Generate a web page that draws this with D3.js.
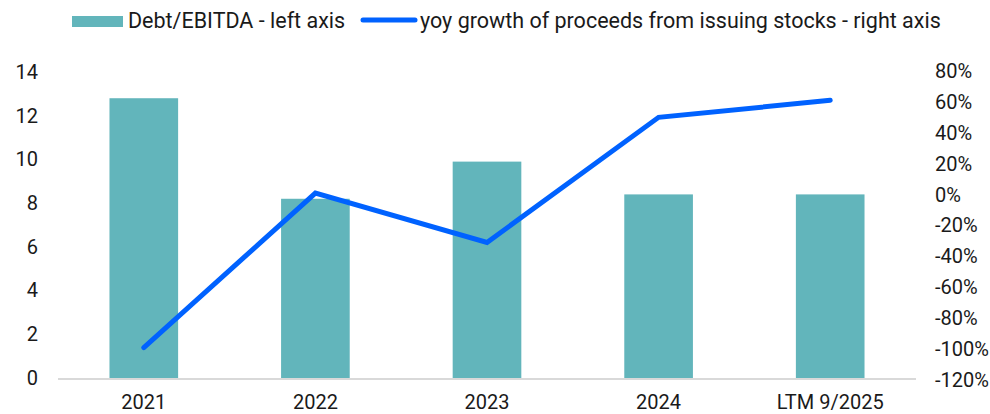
<!DOCTYPE html>
<html>
<head>
<meta charset="utf-8">
<script src="https://cdn.jsdelivr.net/npm/d3@7"></script>
<style>
  html, body { margin: 0; padding: 0; background: #fff; }
  svg { display: block; font-family: Roboto, "Noto Sans", sans-serif; }
</style>
</head>
<body>
<svg id="chart" width="990" height="414"></svg>
<script>
// Categories and series
const categories = ["2021", "2022", "2023", "2024", "LTM 9/2025"];
const debtToEbitda = [12.8, 8.2, 9.9, 8.4, 8.4];
const stockProceedsGrowth = [-0.99, 0.01, -0.31, 0.50, 0.61];

// Tick values
const leftTicks = [0, 2, 4, 6, 8, 10, 12, 14];
const rightTicks = [-1.2, -1.0, -0.8, -0.6, -0.4, -0.2, 0, 0.2, 0.4, 0.6, 0.8];

// Legend labels
const barLabel = "Debt/EBITDA - left axis";
const lineLabel = "yoy growth of proceeds from issuing stocks - right axis";

const barColor = "#62b5bb";
const lineColor = "#0062ff";
const textColor = "#1a1a1a";
const tickFont = 20;
const legendFont = 21.5;

const svg = d3.select("#chart");
const plot = { left: 58, right: 916, top: 72, bottom: 379 };

const x = d3.scaleBand()
  .domain(categories)
  .range([plot.left, plot.right])
  .paddingInner(0.6)
  .paddingOuter(0.3);

const yLeft = d3.scaleLinear().domain([0, 14]).range([plot.bottom - 1, plot.top]);
const yRight = d3.scaleLinear().domain([-1.2, 0.8]).range([plot.bottom + 1, plot.top - 1]);

// Bars
svg.append("g")
  .selectAll("rect")
  .data(categories)
  .join("rect")
  .attr("x", d => x(d))
  .attr("width", x.bandwidth())
  .attr("y", (d, i) => yLeft(debtToEbitda[i]))
  .attr("height", (d, i) => yLeft(0) - yLeft(debtToEbitda[i]))
  .attr("fill", barColor);

// Baseline
svg.append("line")
  .attr("x1", plot.left).attr("x2", plot.right)
  .attr("y1", plot.bottom).attr("y2", plot.bottom)
  .attr("stroke", "#d9d9d9").attr("stroke-width", 2);

// Line series
const line = d3.line()
  .x((d, i) => x(categories[i]) + x.bandwidth() / 2)
  .y(d => yRight(d));

svg.append("path")
  .datum(stockProceedsGrowth)
  .attr("d", line)
  .attr("fill", "none")
  .attr("stroke", lineColor)
  .attr("stroke-width", 5)
  .attr("stroke-linecap", "round")
  .attr("stroke-linejoin", "miter");

// Left axis
const leftAxis = svg.append("g")
  .attr("transform", `translate(${plot.left - 20},0)`)
  .call(d3.axisLeft(yLeft).tickValues(leftTicks).tickSize(0).tickPadding(0).tickFormat(d3.format("d")));
leftAxis.select(".domain").remove();
leftAxis.selectAll("text").attr("font-size", tickFont).attr("fill", textColor).attr("font-family", "Roboto");

// Right axis
const rightAxis = svg.append("g")
  .attr("transform", `translate(${plot.right + 19},0)`)
  .call(d3.axisRight(yRight).tickValues(rightTicks).tickSize(0).tickPadding(0));
rightAxis.select(".domain").remove();
rightAxis.selectAll("text").attr("font-size", tickFont).attr("fill", textColor).attr("font-family", "Roboto")
  .text(d => Math.round(d * 100) + "%");

// Bottom axis
const bottomAxis = svg.append("g")
  .attr("transform", `translate(0,${plot.bottom})`)
  .call(d3.axisBottom(x).tickSize(0).tickPadding(16));
bottomAxis.select(".domain").remove();
bottomAxis.selectAll("text").attr("font-size", tickFont).attr("fill", textColor).attr("font-family", "Roboto");

// Legend
const legend = svg.append("g");
legend.append("rect")
  .attr("x", 72).attr("y", 16).attr("width", 51).attr("height", 11)
  .attr("fill", barColor);
legend.append("text")
  .attr("x", 128).attr("y", 20).attr("dy", "0.35em")
  .attr("font-size", legendFont).attr("fill", textColor)
  .text(barLabel);
legend.append("line")
  .attr("x1", 363).attr("x2", 415).attr("y1", 20).attr("y2", 20)
  .attr("stroke", lineColor).attr("stroke-width", 5).attr("stroke-linecap", "round");
legend.append("text")
  .attr("x", 420).attr("y", 20).attr("dy", "0.35em")
  .attr("font-size", legendFont).attr("fill", textColor)
  .text(lineLabel);
</script>
</body>
</html>
